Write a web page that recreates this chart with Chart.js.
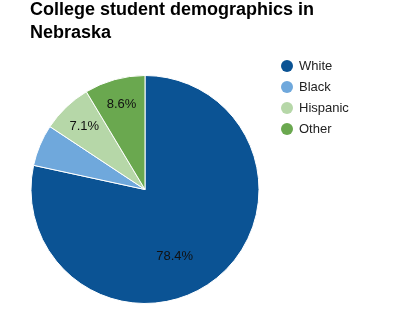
<!DOCTYPE html>
<html>
<head>
<meta charset="utf-8">
<script src="https://cdn.jsdelivr.net/npm/chart.js@4"></script>
<style>
  body { margin: 0; background: #fff; font-family: Arial, "Liberation Sans", sans-serif; }
  #wrap { position: relative; width: 393px; height: 330px; }
  #title { position: absolute; left: 30px; top: -2px; font-size: 18px; font-weight: bold; line-height: 22.5px; color: #000; }
  #legend { position: absolute; left: 281px; top: 57px; font-size: 13px; color: #222; }
  #legend div { height: 21px; line-height: 18px; white-space: nowrap; }
  #legend span { display: inline-block; width: 12px; height: 12px; border-radius: 50%; vertical-align: -2px; margin-right: 6px; }
  canvas { position: absolute; left: 0; top: 0; }
</style>
</head>
<body>
<div id="wrap">
  <canvas id="pieChart" width="393" height="330"></canvas>
  <div id="title">College student demographics in<br>Nebraska</div>
  <div id="legend"></div>
</div>
<script>
const groups = ['White', 'Black', 'Hispanic', 'Other'];
const shares = [78.4, 5.9, 7.1, 8.6];
const colors = ['#0b5394', '#6fa8dc', '#b6d7a8', '#6aa84f'];

// Legend
const legend = document.getElementById('legend');
groups.forEach((g, i) => {
    const row = document.createElement('div');
    row.innerHTML = '<span style="background:' + colors[i] + '"></span>' + g;
    legend.appendChild(row);
});

// Percent labels inside the slices (small slices are skipped)
const sliceLabels = {
    id: 'sliceLabels',
    afterDatasetsDraw(chart) {
        const ctx = chart.ctx;
        const meta = chart.getDatasetMeta(0);
        ctx.save();
        ctx.font = '13px Arial, "Liberation Sans", sans-serif';
        ctx.fillStyle = '#111';
        ctx.textAlign = 'center';
        ctx.textBaseline = 'middle';
        meta.data.forEach((arc, i) => {
            const v = shares[i];
            if (v < 6) return;
            let mid = (arc.startAngle + arc.endAngle) / 2;
            let f = 0.77;
            if (v > 50) { mid += 0.26; f = 0.64; }
            const x = arc.x + Math.cos(mid) * arc.outerRadius * f;
            const y = arc.y + Math.sin(mid) * arc.outerRadius * f;
            ctx.fillText(v.toFixed(1) + '%', x, y);
        });
        ctx.restore();
    }
};

const ctx = document.getElementById('pieChart').getContext('2d');
new Chart(ctx, {
    type: 'pie',
    data: {
        labels: groups,
        datasets: [{
            data: shares,
            backgroundColor: colors,
            borderColor: '#fff',
            borderWidth: 1
        }]
    },
    options: {
        responsive: false,
        animation: false,
        layout: { padding: { left: 30, right: 133, top: 75, bottom: 26 } },
        plugins: {
            legend: { display: false },
            tooltip: { enabled: false }
        }
    },
    plugins: [sliceLabels]
});
</script>
</body>
</html>
